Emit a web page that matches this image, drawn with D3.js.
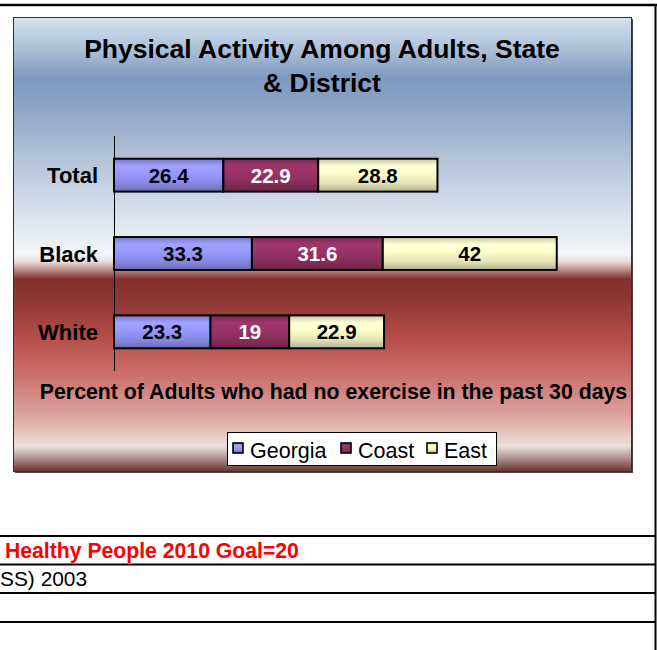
<!DOCTYPE html>
<html>
<head>
<meta charset="utf-8">
<script src="https://cdn.jsdelivr.net/npm/d3@7"></script>
<style>
  html, body { margin: 0; padding: 0; background: #fff; }
  svg { display: block; font-family: "Liberation Sans", Arial, sans-serif; }
</style>
</head>
<body>
<svg id="chart" width="657" height="650"></svg>
<script>
// Percent of adults with no exercise in the past 30 days, by group
const categories = ["Total", "Black", "White"];
const seriesNames = ["Georgia", "Coast", "East"];
const georgia = [26.4, 33.3, 23.3];
const coast = [22.9, 31.6, 19];
const east = [28.8, 42, 22.9];
const seriesColors = ["#9999ff", "#993366", "#ffffcc"];
const labelColors = ["#000", "#fff", "#000"];
const titleLines = ["Physical Activity Among Adults, State", "& District"];
const axisTitle = "Percent of Adults who had no exercise in the past 30 days";
const noteGoal = "Healthy People 2010 Goal=20";
const noteSource = "SS) 2003";

const svg = d3.select("#chart");
const defs = svg.append("defs");

// Chart area background
const frame = { x: 13.5, y: 17.5, w: 618, h: 454 };
const bgStops = [
  [17, "#d5e2f0"], [45, "#b2c5dc"], [78, "#7e99c0"], [100, "#88a1c5"],
  [150, "#adbed5"], [210, "#d6dfea"], [254, "#f3f5f9"], [262, "#ead9d9"],
  [279, "#832f2c"], [300, "#8d3733"], [340, "#b84f4b"], [380, "#cd7571"],
  [420, "#dfaaa5"], [446, "#ede0db"], [458, "#b09390"], [471, "#6a3532"]
];
const bg = defs.append("linearGradient").attr("id", "bg")
  .attr("x1", 0).attr("y1", 0).attr("x2", 0).attr("y2", 1);
bg.selectAll("stop").data(bgStops).join("stop")
  .attr("offset", d => ((d[0] - frame.y) / frame.h))
  .attr("stop-color", d => d[1]);

// Cylinder-like shading for each series
seriesColors.forEach((c, i) => {
  const g = defs.append("linearGradient").attr("id", "bar" + i)
    .attr("x1", 0).attr("y1", 0).attr("x2", 0).attr("y2", 1);
  const base = d3.color(c);
  const stops = [
    [0, base.darker(0.7)], [0.22, base.brighter(0.15)], [0.45, base],
    [0.75, base.darker(0.35)], [1, base.darker(1.0)]
  ];
  g.selectAll("stop").data(stops).join("stop")
    .attr("offset", d => d[0]).attr("stop-color", d => d[1].formatHex());
});

// Page rules
svg.append("line").attr("x1", 0).attr("x2", 657).attr("y1", 5).attr("y2", 5)
  .attr("stroke", "#000").attr("stroke-width", 2.5);
svg.append("line").attr("x1", 655.5).attr("x2", 655.5).attr("y1", 4).attr("y2", 650)
  .attr("stroke", "#000").attr("stroke-width", 2);
[536, 564.5, 593, 622].forEach(y => {
  svg.append("line").attr("x1", 0).attr("x2", 656).attr("y1", y).attr("y2", y)
    .attr("stroke", "#000").attr("stroke-width", 2);
});

// Chart frame
svg.append("rect").attr("x", frame.x + 1.5).attr("y", frame.y + 1.5)
  .attr("width", frame.w).attr("height", frame.h).attr("fill", "#444");
svg.append("rect").attr("x", frame.x).attr("y", frame.y)
  .attr("width", frame.w).attr("height", frame.h)
  .attr("fill", "url(#bg)").attr("stroke", "#333").attr("stroke-width", 1);

// Title
svg.append("text").attr("x", 322).attr("y", 58)
  .attr("text-anchor", "middle").attr("font-weight", "bold").attr("font-size", 26.5)
  .selectAll("tspan").data(titleLines).join("tspan")
  .attr("x", 322).attr("dy", (d, i) => i === 0 ? 0 : 34).text(d => d);

// Scales
const x = d3.scaleLinear().domain([0, 120]).range([114, 611]);
const y = d3.scaleBand().domain(categories).range([136, 371]).paddingInner(0.58).paddingOuter(0.29);

const table = categories.map((c, i) => ({ cat: c, vals: [georgia[i], coast[i], east[i]] }));
const stacked = d3.stack().keys([0, 1, 2]).value((d, k) => d.vals[k])(table);

const g = svg.append("g");
stacked.forEach((layer, si) => {
  g.selectAll(null).data(layer).join("rect")
    .attr("x", d => x(d[0])).attr("y", d => y(d.data.cat))
    .attr("width", d => x(d[1]) - x(d[0])).attr("height", y.bandwidth())
    .attr("fill", "url(#bar" + si + ")")
    .attr("stroke", "#000").attr("stroke-width", 2);
  g.selectAll(null).data(layer).join("text")
    .attr("x", d => (x(d[0]) + x(d[1])) / 2)
    .attr("y", d => y(d.data.cat) + y.bandwidth() / 2 + 7.5)
    .attr("text-anchor", "middle").attr("font-weight", "bold").attr("font-size", 20.5)
    .attr("fill", labelColors[si])
    .text(d => d.data.vals[si]);
});

// Category axis
const yAxis = d3.axisLeft(y).tickSize(0).tickPadding(16);
const ya = svg.append("g").attr("transform", `translate(${x(0)},0)`).call(yAxis);
ya.select(".domain").attr("stroke", "#000").attr("stroke-width", 1)
  .attr("d", `M0.5,136V371`);
ya.selectAll("text").attr("font-family", "Liberation Sans, Arial, sans-serif")
  .attr("font-size", 22).attr("font-weight", "bold").attr("fill", "#000")
  .attr("dy", "0.37em");

// Axis title
svg.append("text").attr("x", 333.5).attr("y", 399)
  .attr("text-anchor", "middle").attr("font-weight", "bold").attr("font-size", 21.3)
  .text(axisTitle);

// Legend
const lg = svg.append("g");
lg.append("rect").attr("x", 227.5).attr("y", 432.5).attr("width", 269).attr("height", 33)
  .attr("fill", "#fff").attr("stroke", "#000").attr("stroke-width", 1);
const legendX = [233, 341, 427];
seriesNames.forEach((n, i) => {
  lg.append("rect").attr("x", legendX[i]).attr("y", 443).attr("width", 10).attr("height", 10)
    .attr("fill", "url(#bar" + i + ")").attr("stroke", "#000").attr("stroke-width", 1.6);
  lg.append("text").attr("x", legendX[i] + 17).attr("y", 457.5)
    .attr("font-size", 21.5).attr("fill", "#000").text(n);
});

// Notes below the chart
svg.append("text").attr("x", 5).attr("y", 558).attr("font-weight", "bold")
  .attr("font-size", 21.2).attr("fill", "#ff0000").text(noteGoal);
svg.append("text").attr("x", 0).attr("y", 586)
  .attr("font-size", 20.9).attr("fill", "#000").text(noteSource);
</script>
</body>
</html>
